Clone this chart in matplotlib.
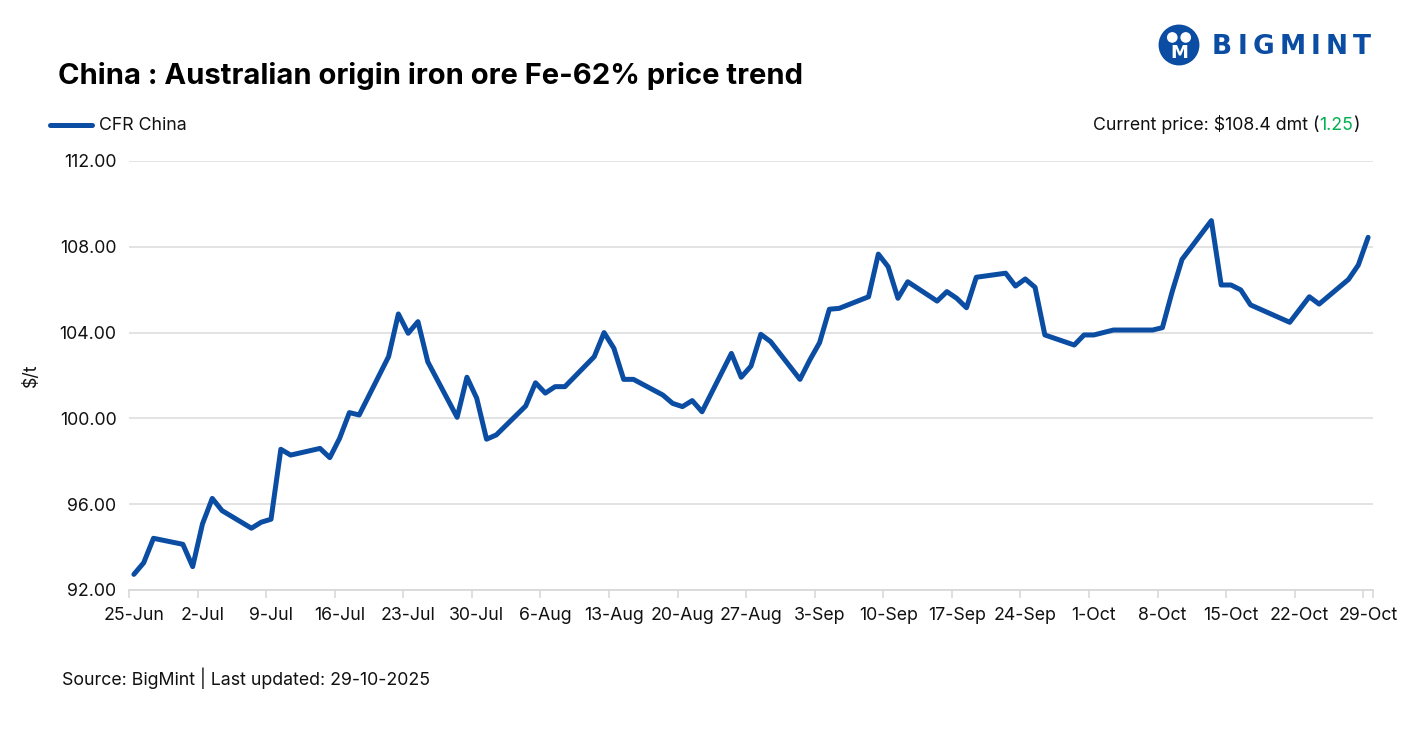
import matplotlib
matplotlib.use("Agg")
import matplotlib.pyplot as plt
import matplotlib.dates as mdates
from matplotlib.patches import Circle
import datetime as dt

# ---- data ----
dates = ["2025-06-25", "2025-06-26", "2025-06-27", "2025-06-30", "2025-07-01", "2025-07-02",
         "2025-07-03", "2025-07-04", "2025-07-07", "2025-07-08", "2025-07-09", "2025-07-10",
         "2025-07-11", "2025-07-14", "2025-07-15", "2025-07-16", "2025-07-17", "2025-07-18",
         "2025-07-21", "2025-07-22", "2025-07-23", "2025-07-24", "2025-07-25", "2025-07-28",
         "2025-07-29", "2025-07-30", "2025-07-31", "2025-08-01", "2025-08-04", "2025-08-05",
         "2025-08-06", "2025-08-07", "2025-08-08", "2025-08-11", "2025-08-12", "2025-08-13",
         "2025-08-14", "2025-08-15", "2025-08-18", "2025-08-19", "2025-08-20", "2025-08-21",
         "2025-08-22", "2025-08-25", "2025-08-26", "2025-08-27", "2025-08-28", "2025-08-29",
         "2025-09-01", "2025-09-02", "2025-09-03", "2025-09-04", "2025-09-05", "2025-09-08",
         "2025-09-09", "2025-09-10", "2025-09-11", "2025-09-12", "2025-09-15", "2025-09-16",
         "2025-09-17", "2025-09-18", "2025-09-19", "2025-09-22", "2025-09-23", "2025-09-24",
         "2025-09-25", "2025-09-26", "2025-09-29", "2025-09-30", "2025-10-01", "2025-10-03",
         "2025-10-07", "2025-10-08", "2025-10-09", "2025-10-10", "2025-10-13", "2025-10-14",
         "2025-10-15", "2025-10-16", "2025-10-17", "2025-10-21", "2025-10-23", "2025-10-24",
         "2025-10-27", "2025-10-28", "2025-10-29"]
cfr_china = [92.73, 93.27, 94.41, 94.13, 93.09, 95.08,
             96.27, 95.70, 94.88, 95.16, 95.30, 98.56,
             98.29, 98.60, 98.17, 99.07, 100.27, 100.16,
             102.88, 104.87, 103.97, 104.51, 102.64, 100.05,
             101.92, 100.94, 99.03, 99.23, 100.58, 101.66,
             101.18, 101.48, 101.48, 102.88, 104.00, 103.27,
             101.82, 101.82, 101.09, 100.70, 100.55, 100.83,
             100.31, 103.03, 101.92, 102.44, 103.92, 103.58,
             101.82, 102.72, 103.53, 105.09, 105.13, 105.67,
             107.66, 107.07, 105.60, 106.37, 105.47, 105.91,
             105.60, 105.16, 106.58, 106.77, 106.17, 106.50,
             106.11, 103.89, 103.42, 103.89, 103.89, 104.12,
             104.12, 104.23, 105.91, 107.41, 109.22, 106.22,
             106.22, 105.99, 105.29, 104.48, 105.67, 105.33,
             106.48, 107.15, 108.44]
tick_dates = ["2025-06-25", "2025-07-02", "2025-07-09", "2025-07-16", "2025-07-23", "2025-07-30",
              "2025-08-06", "2025-08-13", "2025-08-20", "2025-08-27", "2025-09-03", "2025-09-10",
              "2025-09-17", "2025-09-24", "2025-10-01", "2025-10-08", "2025-10-15", "2025-10-22",
              "2025-10-29"]
y_ticks = [92, 96, 100, 104, 108, 112]
series_name = "CFR China"
current_price = "108.4"
change = "1.25"

# ---- style ----
BLUE = "#0B4DA2"
FONT = ["Inter", "DejaVu Sans"]
plt.rcParams["font.family"] = FONT
FS = 12.8

def todate(s):
    return dt.datetime.strptime(s, "%Y-%m-%d")

x = mdates.date2num([todate(d) for d in dates])
xt = mdates.date2num([todate(d) for d in tick_dates])
xt_labels = [f"{todate(d).day}-{todate(d).strftime('%b')}" for d in tick_dates]

W, H = 1427, 743
fig = plt.figure(figsize=(W / 100, H / 100), dpi=100)
ax = fig.add_axes([129 / W, 1 - 590 / H, (1373 - 129) / W, (590 - 161) / H])

ax.plot(x, cfr_china, color=BLUE, lw=3.6, solid_joinstyle="round", solid_capstyle="round", zorder=3)

ax.set_xlim(xt[0] - 0.5, xt[-1] + 0.5)
ax.set_ylim(92, 112)
ax.set_yticks(y_ticks)
ax.set_yticklabels([f"{v:.2f}" for v in y_ticks])
ax.set_xticks(xt)
ax.set_xticklabels(xt_labels)
ax.set_xticks(list(xt - 0.5) + [xt[-1] + 0.5], minor=True)
ax.tick_params(axis="x", which="major", length=0, pad=12, labelsize=FS, colors="#111111")
ax.tick_params(axis="x", which="minor", length=6, width=1.2, color="#d9d9d9")
ax.tick_params(axis="y", length=0, pad=9, labelsize=FS, colors="#111111")

ax.grid(axis="y", color="#e0e0e0", lw=1.3, zorder=0)
for s in ["top", "right", "left"]:
    ax.spines[s].set_visible(False)
ax.spines["bottom"].set_color("#d9d9d9")
ax.spines["bottom"].set_linewidth(1.3)
ax.set_axisbelow(True)

ax.set_ylabel("$/t", fontsize=FS, color="#111111")
ax.yaxis.set_label_coords((40 - 129) / (1373 - 129), (590 - 375) / (590 - 161))

# title
fig.text(58 / W, 1 - 76 / H, "China : Australian origin iron ore Fe-62% price trend",
         fontsize=21, fontweight="bold", va="center", ha="left", color="#000000")

# legend
fig.add_artist(plt.Line2D([50 / W, 92 / W], [1 - 125 / H] * 2, color=BLUE, lw=3.6,
                          solid_capstyle="round"))
fig.text(99 / W, 1 - 125 / H, series_name, fontsize=FS, va="center", ha="left", color="#111111")

# current price
fig.canvas.draw()
r = fig.canvas.get_renderer()
t1 = fig.text(1360 / W, 1 - 125 / H, ")", fontsize=FS, va="center", ha="right", color="#111111")
bb = t1.get_window_extent(r)
t2 = fig.text(bb.x0 / W, 1 - 125 / H, change, fontsize=FS, va="center", ha="right", color="#00B050")
bb2 = t2.get_window_extent(r)
fig.text(bb2.x0 / W, 1 - 125 / H, f"Current price: ${current_price} dmt (", fontsize=FS,
         va="center", ha="right", color="#111111")

# source
fig.text(62 / W, 1 - 678 / H, "Source: BigMint | Last updated: 29-10-2025", fontsize=FS,
         va="center", ha="left", color="#111111")

# logo
lax = fig.add_axes([1158 / W, 1 - 66 / H, 42 / W, 42 / H])
lax.set_xlim(0, 1); lax.set_ylim(0, 1); lax.axis("off")
lax.add_patch(Circle((0.5, 0.5), 0.47, color=BLUE))
lax.add_patch(Circle((0.34, 0.68), 0.11, color="white"))
lax.add_patch(Circle((0.66, 0.68), 0.11, color="white"))
lax.text(0.5, 0.3, "M", color="white", fontsize=13, fontweight="bold", ha="center", va="center",
         family="DejaVu Sans")
# letter-spaced wordmark
xpos = 1212
for ch in "BIGMINT":
    t = fig.text(xpos / W, 1 - 47 / H, ch, fontsize=19, fontweight="bold", va="center",
                 ha="left", color=BLUE, family="DejaVu Sans")
    xpos = t.get_window_extent(r).x1 + 5.3

fig.savefig("out.png", dpi=100)
